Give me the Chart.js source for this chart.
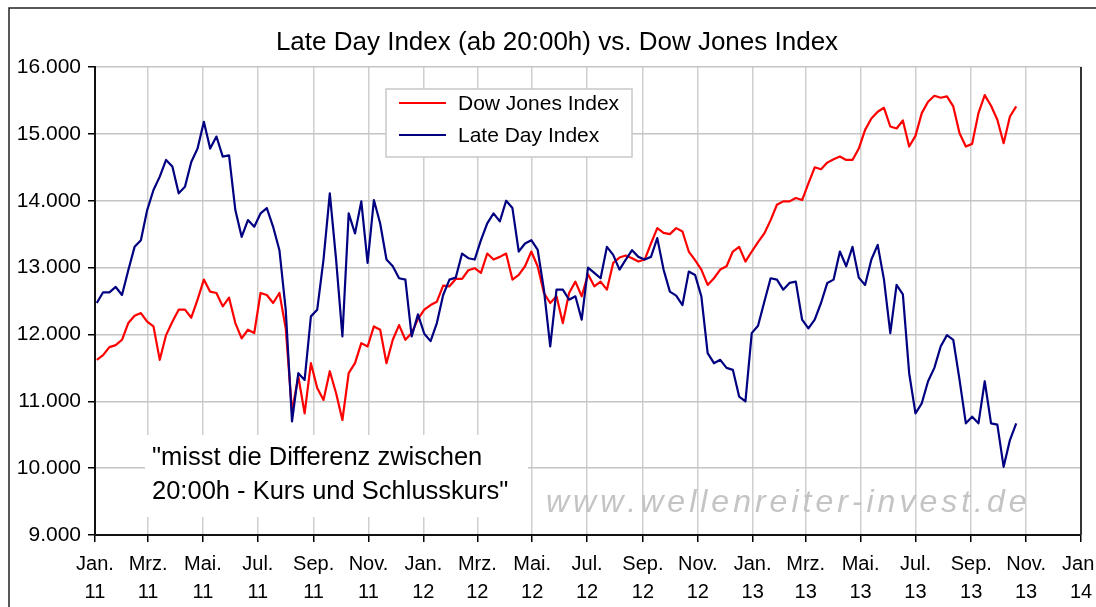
<!DOCTYPE html>
<html>
<head>
<meta charset="utf-8">
<title>Late Day Index vs. Dow Jones Index</title>
<script src="https://cdn.jsdelivr.net/npm/chart.js@4.4.0/dist/chart.umd.min.js"></script>
<style>
  html, body { margin: 0; padding: 0; background: #fff; }
  #wrap { width: 1096px; height: 607px; }
</style>
</head>
<body>
<div id="wrap"><canvas id="lateDayChart" width="1096" height="607"></canvas></div>
<script>
const FONT = '"Liberation Sans", Arial, sans-serif';

// Weekly closes, first value = week of 3 Jan 2011
const firstWeek = '2011-01-03';

const dowJones = [
    11620, 11690, 11810, 11840, 11920, 12170, 12280, 12320, 12190, 12120,
    11620, 11990, 12190, 12370, 12370, 12250, 12520, 12820, 12640, 12620,
    12420, 12550, 12170, 11940, 12070, 12020, 12620, 12590, 12470, 12620,
    12090, 10850, 11370, 10820, 11570, 11200, 11020, 11450, 11120, 10720,
    11420, 11570, 11870, 11820, 12120, 12070, 11570, 11920, 12140, 11920,
    12020, 12230, 12370, 12440, 12490, 12730, 12720, 12830, 12830, 12960,
    12990, 12920, 13210, 13120, 13160, 13210, 12820, 12890, 13020, 13240,
    13020, 12620, 12470, 12570, 12170, 12620, 12790, 12570, 12900, 12720,
    12790, 12670, 13070, 13150, 13180, 13140, 13090, 13120, 13360, 13590,
    13520, 13500, 13590, 13540, 13240, 13110, 12970, 12740, 12840, 12970,
    13020, 13240, 13310, 13090, 13240, 13380, 13510, 13710, 13940, 13990,
    13990, 14040, 14010, 14260, 14500, 14470, 14570, 14620, 14660, 14610,
    14610, 14780, 15060, 15230, 15330, 15390, 15110, 15080, 15200, 14810,
    14970, 15310, 15480, 15570, 15540, 15560, 15410, 15010, 14810, 14850,
    15310, 15580, 15420, 15210, 14860, 15260, 15410
];

const lateDay = [
    12470, 12630, 12630, 12710, 12590, 12960, 13310, 13410, 13860, 14160,
    14360, 14610, 14510, 14110, 14210, 14580, 14780, 15180, 14780, 14960,
    14660, 14680, 13860, 13460, 13710, 13610, 13810, 13890, 13610, 13260,
    12370, 10700, 11420, 11320, 12270, 12370, 13120, 14110, 13120, 11970,
    13810, 13510, 13990, 13070, 14010, 13660, 13120, 13020, 12840, 12820,
    11970, 12300, 12010, 11900, 12170, 12590, 12820, 12850, 13210, 13140,
    13120, 13410, 13660, 13810, 13690, 14000, 13890, 13240, 13360, 13410,
    13270, 12670, 11820, 12670, 12670, 12520, 12570, 12220, 13000, 12920,
    12840, 13310, 13190, 12970, 13120, 13260, 13160, 13120, 13160, 13440,
    12970, 12640, 12580, 12440, 12940, 12890, 12570, 11720, 11570, 11620,
    11500, 11470, 11070, 11000, 12020, 12130, 12490, 12840, 12820, 12670,
    12770, 12790, 12220, 12090, 12220, 12470, 12770, 12820, 13240, 13020,
    13310, 12850, 12740, 13120, 13340, 12820, 12020, 12740, 12600, 11420,
    10820, 10970, 11300, 11500, 11820, 11990, 11920, 11320, 10670, 10770,
    10670, 11300, 10670, 10650, 10020, 10420, 10670
];

const seriesLabels = ['Dow Jones Index', 'Late Day Index'];
const tickMonths = ['Jan.', 'Mrz.', 'Mai.', 'Jul.', 'Sep.', 'Nov.'];
const tickYears = [2011, 2012, 2013, 2014];
const yMin = 9000, yMax = 16000, yStep = 1000;

const DAY = 86400000;
const axisStart = Date.UTC(2011, 0, 1);
const axisEnd = Date.UTC(2014, 0, 1);
const toDay = t => (t - axisStart) / DAY;
const week0 = toDay(Date.parse(firstWeek));

// x ticks every two months, label = [month, yy]
const xTicks = [];
tickYears.forEach(year => {
    tickMonths.forEach((m, k) => {
        const t = Date.UTC(year, k * 2, 1);
        if (t <= axisEnd) xTicks.push({ value: toDay(t), label: [m, String(year).slice(2)] });
    });
});

const toPoints = arr => arr.map((v, i) => ({ x: week0 + 7 * i, y: v }));

// frame, title, note, watermark, legend
const decor = {
    id: 'decor',
    beforeDraw(chart) {
        const ctx = chart.ctx;
        ctx.save();
        ctx.fillStyle = '#fff';
        ctx.fillRect(0, 0, chart.width, chart.height);
        ctx.restore();
    },
    beforeDatasetsDraw(chart) {
        const ctx = chart.ctx;
        ctx.save();
        // white box behind the note
        ctx.fillStyle = '#fff';
        ctx.fillRect(145, 435, 383, 82);
        ctx.fillStyle = '#000';
        ctx.font = '25.5px ' + FONT;
        ctx.textBaseline = 'alphabetic';
        ctx.fillText('"misst die Differenz zwischen', 152, 465);
        ctx.fillText('20:00h - Kurs und Schlusskurs"', 152, 499);

        // watermark
        ctx.font = 'italic 32px ' + FONT;
        ctx.fillStyle = '#c4c4c4';
        let x = 546;
        for (const ch of 'www.wellenreiter-invest.de') {
            ctx.fillText(ch, x, 512);
            x += ctx.measureText(ch).width + 4;
        }
        ctx.restore();
    },
    afterDraw(chart) {
        const ctx = chart.ctx;
        const area = chart.chartArea;
        ctx.save();

        // right edge of the plot area
        ctx.strokeStyle = '#333';
        ctx.lineWidth = 2;
        ctx.beginPath();
        ctx.moveTo(area.right, area.top);
        ctx.lineTo(area.right, area.bottom);
        ctx.stroke();

        // outer frame
        ctx.strokeStyle = '#222';
        ctx.lineWidth = 1.5;
        ctx.beginPath();
        ctx.moveTo(9, chart.height);
        ctx.lineTo(9, 8);
        ctx.lineTo(chart.width, 8);
        ctx.stroke();

        // title
        ctx.fillStyle = '#000';
        ctx.font = '26px ' + FONT;
        ctx.textAlign = 'center';
        ctx.textBaseline = 'alphabetic';
        ctx.fillText('Late Day Index (ab 20:00h) vs. Dow Jones Index', 557, 50);

        // legend
        ctx.fillStyle = '#fff';
        ctx.fillRect(386, 89, 246, 68);
        ctx.strokeStyle = '#c8c8c8';
        ctx.lineWidth = 1.5;
        ctx.strokeRect(386, 89, 246, 68);
        ctx.font = '21px ' + FONT;
        ctx.textAlign = 'left';
        ctx.textBaseline = 'middle';
        chart.data.datasets.forEach((ds, i) => {
            const y = 103 + i * 32;
            ctx.strokeStyle = ds.borderColor;
            ctx.lineWidth = 2;
            ctx.beginPath();
            ctx.moveTo(399, y);
            ctx.lineTo(446, y);
            ctx.stroke();
            ctx.fillStyle = '#000';
            ctx.fillText(ds.label, 458, y + 1);
        });
        ctx.restore();
    }
};

const ctx = document.getElementById('lateDayChart').getContext('2d');
const lateDayChart = new Chart(ctx, {
    type: 'line',
    data: {
        datasets: [{
            label: seriesLabels[0],
            data: toPoints(dowJones),
            borderColor: '#ff0000',
            borderWidth: 2.2,
            order: 1
        }, {
            label: seriesLabels[1],
            data: toPoints(lateDay),
            borderColor: '#000080',
            borderWidth: 2.2,
            order: 0
        }]
    },
    options: {
        responsive: false,
        animation: false,
        devicePixelRatio: 1,
        parsing: false,
        elements: {
            point: { radius: 0 },
            line: { tension: 0, borderJoinStyle: 'round' }
        },
        layout: { padding: { left: 0, top: 67, right: 15, bottom: 0 } },
        plugins: {
            legend: { display: false },
            title: { display: false },
            tooltip: { enabled: false }
        },
        scales: {
            x: {
                type: 'linear',
                min: 0,
                max: toDay(axisEnd),
                offset: false,
                afterBuildTicks: scale => {
                    scale.ticks = xTicks.map(t => ({ value: t.value }));
                },
                afterFit: scale => {
                    scale.height = 72;
                    scale.paddingLeft = 0;
                    scale.paddingRight = 0;
                },
                ticks: {
                    autoSkip: false,
                    maxRotation: 0,
                    minRotation: 0,
                    padding: 8,
                    color: '#000',
                    font: { family: FONT, size: 20, lineHeight: 1.42 },
                    callback: value => {
                        const t = xTicks.find(k => k.value === value);
                        return t ? t.label : '';
                    }
                },
                grid: {
                    color: '#cfcfcf',
                    lineWidth: 1.5,
                    tickColor: '#000',
                    tickLength: 7,
                    tickWidth: 1.5
                },
                border: { color: '#111', width: 2 }
            },
            y: {
                min: yMin,
                max: yMax,
                afterFit: scale => { scale.width = 95; },
                ticks: {
                    stepSize: yStep,
                    padding: 7,
                    color: '#000',
                    font: { family: FONT, size: 21 },
                    callback: v => (v / 1000).toFixed(3)
                },
                grid: {
                    color: '#c4c4c4',
                    lineWidth: 1.5,
                    tickColor: '#000',
                    tickLength: 7,
                    tickWidth: 1.5
                },
                border: { color: '#111', width: 2 }
            }
        }
    },
    plugins: [decor]
});
</script>
</body>
</html>
